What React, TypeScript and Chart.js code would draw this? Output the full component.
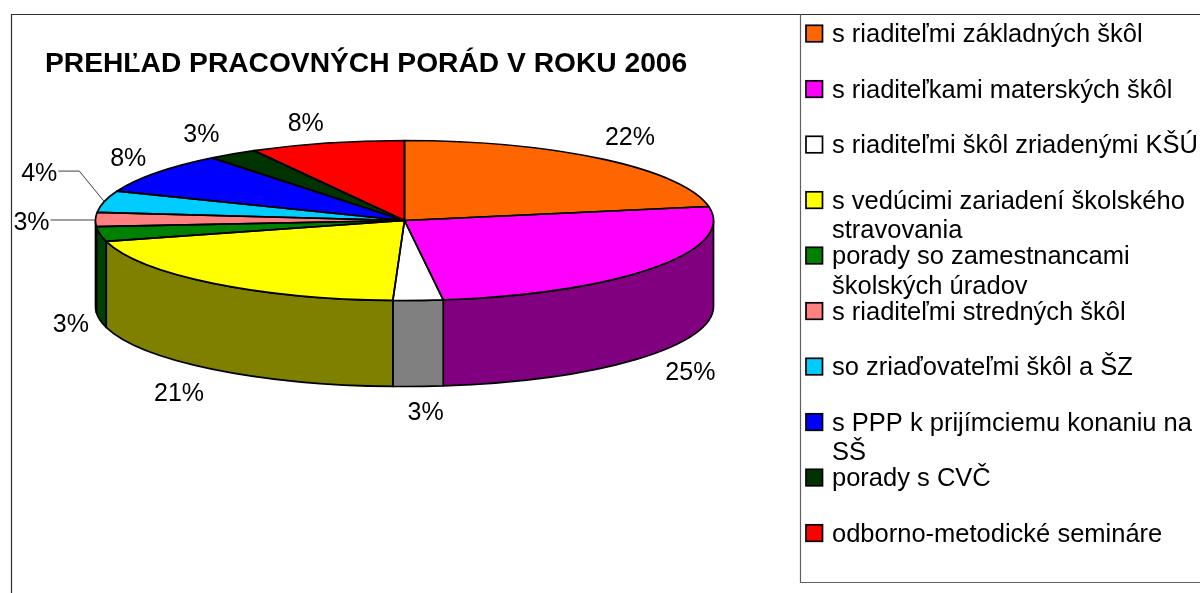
import React, { useEffect, useRef } from "react";
import { Chart, registerables } from "chart.js";

Chart.register(...registerables);

const titleText = "PREHĽAD PRACOVNÝCH PORÁD V ROKU 2006";
const categories = [
  ["s riaditeľmi základných škôl"],
  ["s riaditeľkami materských škôl"],
  ["s riaditeľmi škôl zriadenými KŠÚ"],
  ["s vedúcimi zariadení školského", "stravovania"],
  ["porady so zamestnancami", "školských úradov"],
  ["s riaditeľmi stredných škôl"],
  ["so zriaďovateľmi škôl a ŠZ"],
  ["s PPP k prijímciemu konaniu na", "SŠ"],
  ["porady s CVČ"],
  ["odborno-metodické semináre"],
];
const values = [22.2, 25.8, 2.6, 20.2, 3.0, 2.8, 4.4, 8.3, 2.6, 8.1];
const percentLabels = ["22%", "25%", "3%", "21%", "3%", "3%", "4%", "8%", "3%", "8%"];
const topColors = ["#FF6600", "#FF00FF", "#FFFFFF", "#FFFF00", "#008000", "#FF8080", "#00CCFF", "#0000FF", "#003300", "#FF0000"];
const wallColors = ["#803300", "#800080", "#808080", "#808000", "#004000", "#804040", "#006680", "#000080", "#001A00", "#800000"];

// label offsets from each slice's rim midpoint (layout only)
const labelOffsets = [[27, -21.5], [37, 105], [7.5, 113], [-33, 111.5], [-29, 91], [-64, 3.5], [-65, -27.5], [-28, -14], [-31, -19], [-21, -19]];
const RADIUS = 309;
const SQUASH = 80 / 309;
const DEPTH = 86;
const LEGEND_X = 806;
const LEGEND_TOP = 33.3;
const LEGEND_STEP = 55.5;
const PEN = 1.7;

const pie3d = {
  id: "pie3d",
  beforeDraw(chart: any) {
    const { ctx, width, height } = chart;
    ctx.save();
    ctx.fillStyle = "#FFFFFF";
    ctx.fillRect(0, 0, width, height);
    // frame
    ctx.strokeStyle = "#303030";
    ctx.lineWidth = 1.2;
    ctx.beginPath();
    ctx.moveTo(11.5, height);
    ctx.lineTo(11.5, 14.5);
    ctx.lineTo(width, 14.5);
    ctx.stroke();
    ctx.strokeStyle = "#606060";
    ctx.beginPath();
    ctx.moveTo(800.5, 14.5);
    ctx.lineTo(800.5, 582.5);
    ctx.lineTo(width, 582.5);
    ctx.stroke();
    // title
    ctx.fillStyle = "#000000";
    ctx.font = "bold 28.2px 'Liberation Sans'";
    ctx.textAlign = "left";
    ctx.textBaseline = "alphabetic";
    ctx.fillText(titleText, 45, 71.5);
    // legend
    categories.forEach((lines, i) => {
      const cy = LEGEND_TOP + LEGEND_STEP * i;
      ctx.fillStyle = topColors[i];
      ctx.strokeStyle = "#000000";
      ctx.lineWidth = PEN;
      ctx.fillRect(LEGEND_X, cy - 8, 16.5, 16.5);
      ctx.strokeRect(LEGEND_X, cy - 8, 16.5, 16.5);
      ctx.fillStyle = "#000000";
      ctx.font = "25.5px 'Liberation Sans'";
      lines.forEach((line, k) => ctx.fillText(line, LEGEND_X + 26, cy + 9 + k * 29.5));
    });
    ctx.restore();
  },
  beforeDatasetsDraw(chart: any) {
    const { ctx } = chart;
    const arcs = chart.getDatasetMeta(0).data;
    ctx.save();
    ctx.lineWidth = PEN;
    ctx.strokeStyle = "#000000";
    ctx.lineJoin = "round";
    arcs.forEach((arc: any, i: number) => {
      const a0 = Math.max(arc.startAngle, 0);
      const a1 = Math.min(arc.endAngle, Math.PI);
      if (a1 <= a0) return;
      const ry = arc.outerRadius * SQUASH;
      ctx.beginPath();
      ctx.ellipse(arc.x, arc.y, arc.outerRadius, ry, 0, a0, a1);
      ctx.ellipse(arc.x, arc.y + DEPTH, arc.outerRadius, ry, 0, a1, a0, true);
      ctx.closePath();
      ctx.fillStyle = wallColors[i];
      ctx.fill();
      ctx.stroke();
    });
    ctx.restore();
    // the library's arcs are drawn inside this flattening transform
    const first = arcs[0];
    ctx.save();
    ctx.translate(first.x, first.y);
    ctx.scale(1, SQUASH);
    ctx.translate(-first.x, -first.y);
  },
  afterDatasetsDraw(chart: any) {
    const { ctx } = chart;
    ctx.restore();
    const arcs = chart.getDatasetMeta(0).data;
    ctx.save();
    ctx.lineWidth = PEN;
    ctx.strokeStyle = "#000000";
    ctx.lineJoin = "round";
    arcs.forEach((arc: any) => {
      ctx.beginPath();
      ctx.moveTo(arc.x, arc.y);
      ctx.ellipse(arc.x, arc.y, arc.outerRadius, arc.outerRadius * SQUASH, 0, arc.startAngle, arc.endAngle);
      ctx.closePath();
      ctx.stroke();
    });
    ctx.font = "25px 'Liberation Sans'";
    ctx.textAlign = "center";
    ctx.textBaseline = "middle";
    ctx.fillStyle = "#000000";
    arcs.forEach((arc: any, i: number) => {
      const mid = (arc.startAngle + arc.endAngle) / 2;
      const rx = arc.x + arc.outerRadius * Math.cos(mid);
      const ry = arc.y + arc.outerRadius * SQUASH * Math.sin(mid);
      const lx = rx + labelOffsets[i][0];
      const ly = ry + labelOffsets[i][1];
      ctx.fillText(percentLabels[i], lx, ly);
      // leader lines of the two narrow slices placed away from the rim
      if (i === 5 || i === 6) {
        ctx.save();
        ctx.strokeStyle = "#404040";
        ctx.lineWidth = 1;
        ctx.beginPath();
        ctx.moveTo(lx + 19, ly - 3);
        if (i === 6) {
          ctx.lineTo(lx + 40, ly - 3);
          ctx.lineTo(rx, ry);
        } else {
          ctx.lineTo(rx, ly - 3);
        }
        ctx.stroke();
        ctx.restore();
      }
    });
    ctx.restore();
  },
};

export default function App() {
  const ref = useRef<HTMLCanvasElement>(null);
  useEffect(() => {
    const chart = new Chart(ref.current as HTMLCanvasElement, {
      type: "pie",
      data: {
        labels: categories.map((c) => c.join(" ")),
        datasets: [{ data: values, backgroundColor: topColors, borderWidth: 0, clip: false } as any],
      },
      options: {
        responsive: false,
        animation: false,
        radius: RADIUS,
        layout: { padding: { left: 0, top: 0, right: 391, bottom: 152 } },
        plugins: { legend: { display: false }, title: { display: false }, tooltip: { enabled: false } },
      } as any,
      plugins: [pie3d],
    });
    return () => chart.destroy();
  }, []);
  return (
    <div style={{ position: "fixed", left: 0, top: 0, width: 1200, height: 593 }}>
      <canvas ref={ref} width={1200} height={593} style={{ display: "block" }} />
    </div>
  );
}
